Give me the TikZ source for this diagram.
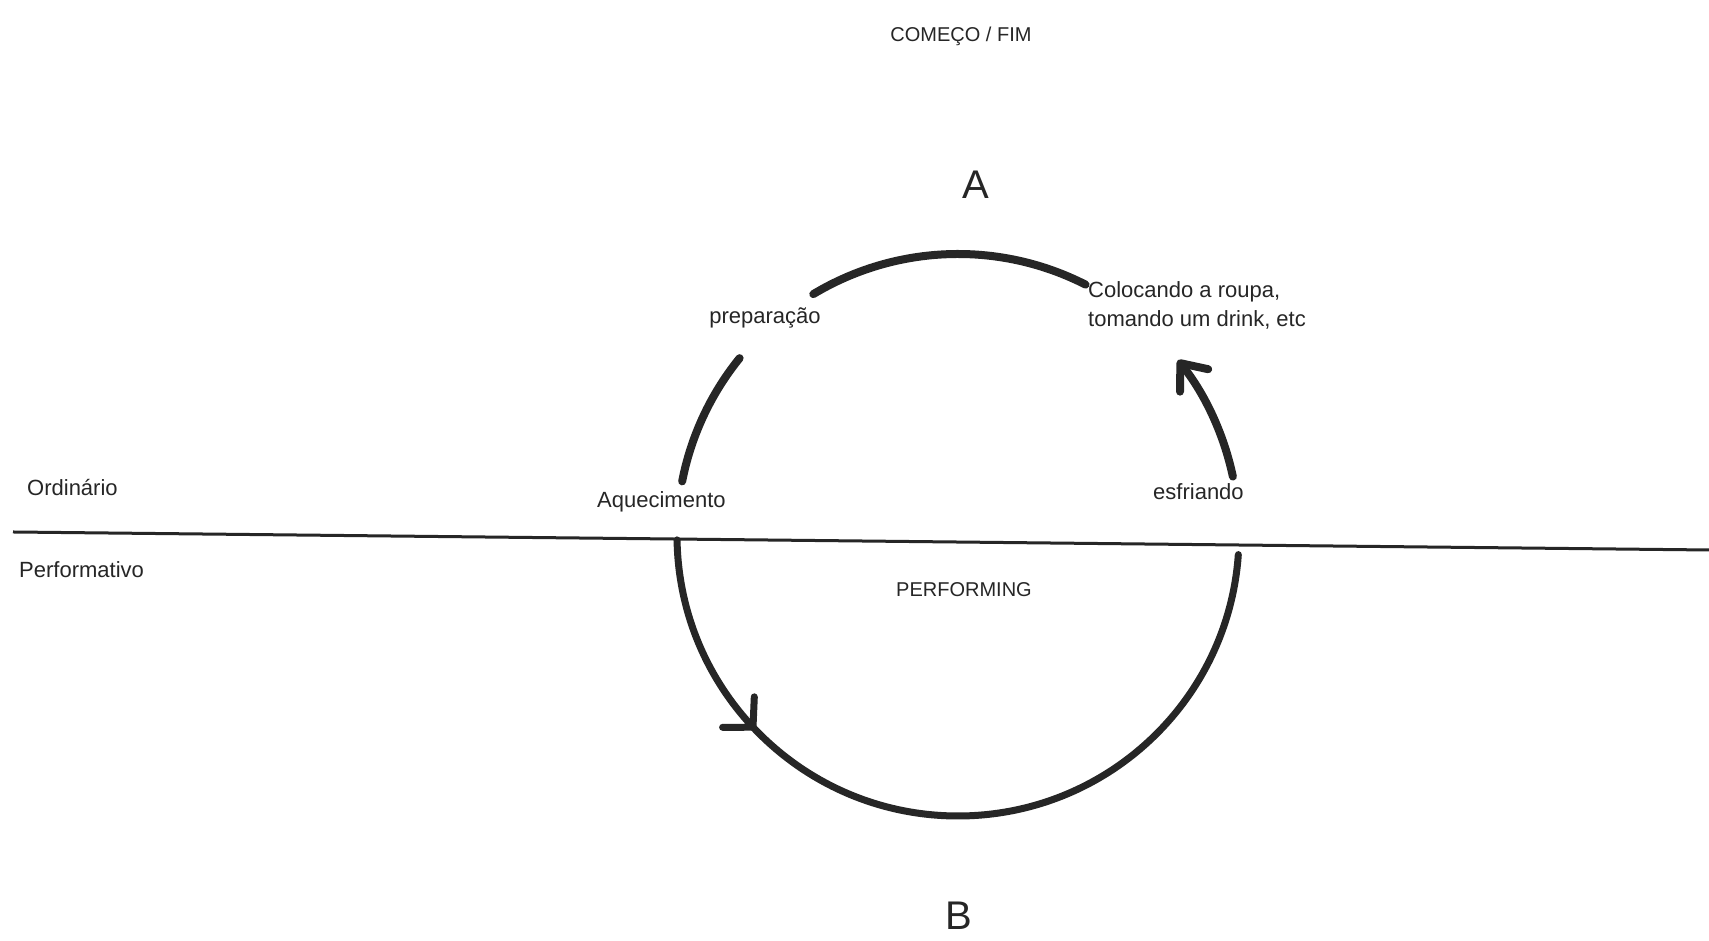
\documentclass[tikz,border=0pt]{standalone}
\usepackage{fontspec}
\setmainfont{Liberation Sans}
\usetikzlibrary{arrows.meta,decorations.markings}
\definecolor{ink}{HTML}{262626}
\begin{document}
\begin{tikzpicture}[x=1pt,y=1pt,
  lbl/.style={inner sep=0pt, text=ink, font=\fontsize{22}{29}\selectfont},
  caps/.style={inner sep=0pt, text=ink, font=\fontsize{20}{24}\selectfont},
  big/.style={inner sep=0pt, text=ink, font=\fontsize{40}{44}\selectfont},
  stroke/.style={draw=ink, line width=8pt, line cap=round},
  ]
\useasboundingbox[fill=white] (0,0) rectangle (1709,941);

% centre of the cycle and the dividing line
\coordinate (c) at (958,406);
\coordinate (hl) at (13,409);
\coordinate (hr) at (1709,391);
\draw[draw=ink, line width=3pt] (hl) -- (hr);

% upper half: ordinary world
\draw[stroke] ([shift={(121:281)}]c) arc[start angle=121, end angle=63, radius=281];
\draw[stroke] ([shift={(169:281)}]c) arc[start angle=169, end angle=141, radius=281];
\draw[stroke, -{Straight Barb[length=22pt,width=36pt,round]}]
  ([shift={(12:281)}]c) arc[start angle=12, end angle=38.5, radius=281];

% lower half: performing
\draw[stroke, line width=7pt, postaction={decorate},
  decoration={markings, mark=at position 0.245 with {\arrow[line width=7pt]{Straight Barb[length=21pt,width=44pt,round]}}}]
  ([shift={(181:281)}]c) arc[start angle=181, end angle=356, radius=281];

% labels
\node[caps] (top) at (961,905) {COMEÇO / FIM};
\node[big] (A) at (976,756) {A};
\node[lbl] (prep) at (765,623) {preparação};
\node[lbl, anchor=west, align=left] (roupa) at (1088,636) {Colocando a roupa,\\tomando um drink, etc};
\node[lbl, anchor=west] (aquec) at (597,439) {Aquecimento};
\node[lbl, anchor=west] (esfr) at (1153,449) {esfriando};
\node[lbl, anchor=west] (ord) at (27,453) {Ordinário};
\node[lbl, anchor=west] (perf) at (19,371) {Performativo};
\node[caps, anchor=west] (performing) at (896,351) {PERFORMING};
\node[big] (B) at (959,25) {B};
\end{tikzpicture}
\end{document}
